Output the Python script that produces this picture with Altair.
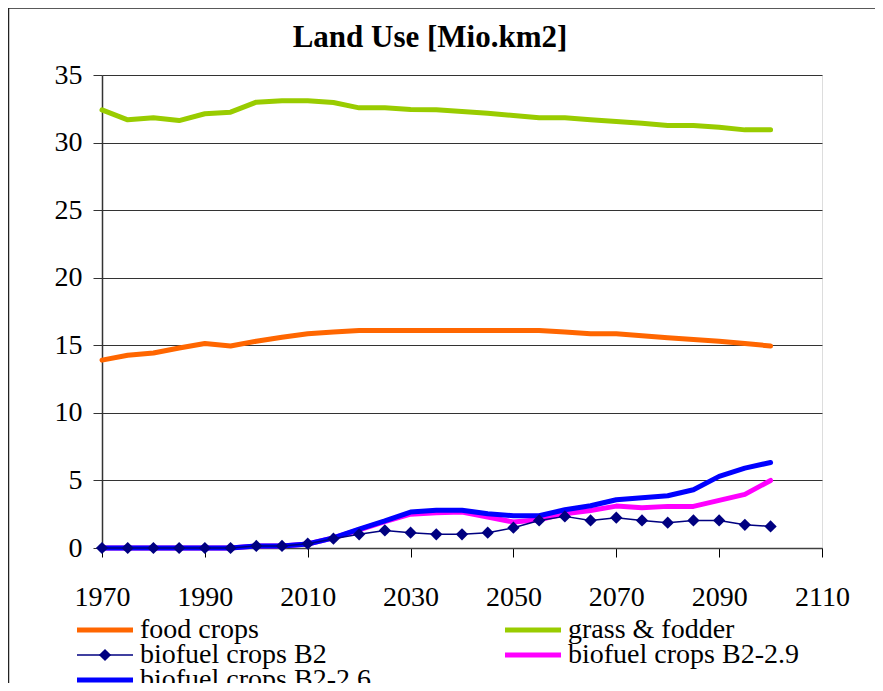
import altair as alt
import pandas as pd

years = [1970, 1975, 1980, 1985, 1990, 1995, 2000, 2005, 2010, 2015, 2020, 2025, 2030,
         2035, 2040, 2045, 2050, 2055, 2060, 2065, 2070, 2075, 2080, 2085, 2090, 2095, 2100]

food_crops = [13.9, 14.26, 14.43, 14.8, 15.13, 14.95, 15.3, 15.6, 15.85, 15.98, 16.1, 16.1, 16.1,
              16.1, 16.1, 16.1, 16.1, 16.1, 15.98, 15.85, 15.85, 15.7, 15.55, 15.42, 15.3, 15.13, 14.95]
grass_fodder = [32.42, 31.68, 31.83, 31.63, 32.13, 32.25, 32.99, 33.1, 33.1, 32.96, 32.57, 32.57, 32.45,
                32.42, 32.3, 32.17, 32.0, 31.83, 31.83, 31.68, 31.56, 31.43, 31.26, 31.26, 31.14, 30.94, 30.94]
biofuel_b2 = [0, 0, 0, 0, 0, 0, 0.15, 0.15, 0.32, 0.69, 1.01, 1.3, 1.13,
              1.01, 1.01, 1.13, 1.5, 2.04, 2.34, 2.04, 2.24, 2.04, 1.87, 2.04, 2.04, 1.72, 1.6]
biofuel_b2_29 = [0, 0, 0, 0, 0, 0, 0.15, 0.15, 0.3, 0.75, 1.35, 1.95, 2.5,
                 2.6, 2.66, 2.29, 1.92, 2.09, 2.54, 2.78, 3.1, 2.98, 3.08, 3.08, 3.52, 3.97, 5.0]
biofuel_b2_26 = [0, 0, 0, 0, 0, 0, 0.15, 0.15, 0.3, 0.75, 1.4, 2.0, 2.66,
                 2.8, 2.8, 2.54, 2.39, 2.39, 2.83, 3.13, 3.57, 3.72, 3.87, 4.31, 5.3, 5.91, 6.33]

series_names = ["food crops", "grass & fodder", "biofuel crops B2",
                "biofuel crops B2-2.9", "biofuel crops B2-2.6"]
series_values = [food_crops, grass_fodder, biofuel_b2, biofuel_b2_29, biofuel_b2_26]
series_colors = ["#FF6600", "#99CC00", "#000080", "#FF00FF", "#0000FF"]

chart_title = "Land Use [Mio.km2]"
x_ticks = [1970, 1990, 2010, 2030, 2050, 2070, 2090, 2110]
y_ticks = [0, 5, 10, 15, 20, 25, 30, 35]

rows = []
for name, vals in zip(series_names, series_values):
    for yr, v in zip(years, vals):
        rows.append({"year": yr, "value": v, "series": name})
df = pd.DataFrame(rows)

FONT = "'Times New Roman', 'Liberation Serif', serif"
B2 = "biofuel crops B2"

color_scale = alt.Scale(domain=series_names, range=series_colors)
color = alt.Color("series:N", scale=color_scale, legend=None)
x = alt.X("year:Q", scale=alt.Scale(domain=[1970, 2110], nice=False, zero=False),
          axis=alt.Axis(values=x_ticks, format="d", title=None, grid=False, tickSize=9,
                        labelFlush=False, labelPadding=26, labelFont=FONT, labelFontSize=28,
                        labelColor="#000", domainColor="#404040", domainWidth=1.5,
                        tickColor="#000"))
y = alt.Y("value:Q", scale=alt.Scale(domain=[0, 35], nice=False),
          axis=alt.Axis(values=y_ticks, title=None, grid=True, tickSize=9, labelPadding=11,
                        labelFont=FONT, labelFontSize=28, labelColor="#000",
                        gridColor="#333", gridWidth=1, domainColor="#333", domainWidth=1.5,
                        tickColor="#333"))

base = alt.Chart(df).encode(x=x, y=y, color=color)


def line_layer(name, width):
    return base.transform_filter(alt.datum.series == name).mark_line(
        strokeWidth=width, strokeCap="round", strokeJoin="round")


layers = [
    line_layer("food crops", 5),
    line_layer("grass & fodder", 5),
    line_layer("biofuel crops B2-2.9", 5),
    line_layer("biofuel crops B2-2.6", 5),
    line_layer(B2, 1.5),
    base.transform_filter(alt.datum.series == B2).mark_point(
        shape="diamond", filled=True, size=150, opacity=1),
]

# ---- legend (two columns, below the axis), laid out in pixels
leg_rows = []
for i, name in enumerate(series_names):
    col, row = i % 2, i // 2
    x0 = -25 + col * 428
    leg_rows.append({"name": name, "x0": x0, "x1": x0 + 56, "xc": x0 + 28,
                     "tx": x0 + 63, "ly": 555 + row * 25,
                     "sw": 1.5 if name == B2 else 5})
leg_df = pd.DataFrame(leg_rows)
leg_color = alt.Color("name:N", scale=color_scale, legend=None)
px_x = lambda f: alt.X(f, scale=None, axis=None)
px_y = lambda f: alt.Y(f, scale=None, axis=None)
leg_lines = alt.Chart(leg_df).mark_rule(strokeCap="butt").encode(
    x=px_x("x0:Q"), x2="x1:Q", y=px_y("ly:Q"),
    color=leg_color, strokeWidth=alt.StrokeWidth("sw:Q", scale=None))
leg_diamond = alt.Chart(leg_df).transform_filter(alt.datum.name == B2).mark_point(
    shape="diamond", filled=True, size=150, opacity=1).encode(
    x=px_x("xc:Q"), y=px_y("ly:Q"), color=leg_color)
leg_text = alt.Chart(leg_df).mark_text(
    align="left", baseline="middle", font=FONT, fontSize=28, color="#000").encode(
    x=px_x("tx:Q"), y=px_y("ly:Q"), text="name:N")

# ---- title as a text mark (centred over the whole chart, not the plot)
title_df = pd.DataFrame({"t": [chart_title]})
title_mark = alt.Chart(title_df).mark_text(
    align="center", baseline="alphabetic", font=FONT, fontSize=31, fontWeight="bold",
    color="#000").encode(x=alt.value(328), y=alt.value(-28), text="t:N")

frame_df = pd.DataFrame({"k": [0]})
frame_left = alt.Chart(frame_df).mark_rule(color="#222", strokeWidth=1.5).encode(
    x=alt.value(-93.5), y=alt.value(-67), y2=alt.value(700))
frame_top = alt.Chart(frame_df).mark_rule(color="#222", strokeWidth=1.5).encode(
    x=alt.value(-93.5), x2=alt.value(900), y=alt.value(-67))

chart = alt.layer(*layers, leg_lines, leg_diamond, leg_text, title_mark,
                  frame_left, frame_top).properties(
    width=720, height=473,
    autosize=alt.AutoSizeParams(type="none"),
    padding={"left": 94, "top": 67, "right": 53, "bottom": 135},
).configure_view(stroke="#808080", strokeWidth=2).configure_text(
    font=FONT).configure(background="white", font=FONT)

chart.save("out.html", embed_options={"renderer": "svg", "actions": False})
